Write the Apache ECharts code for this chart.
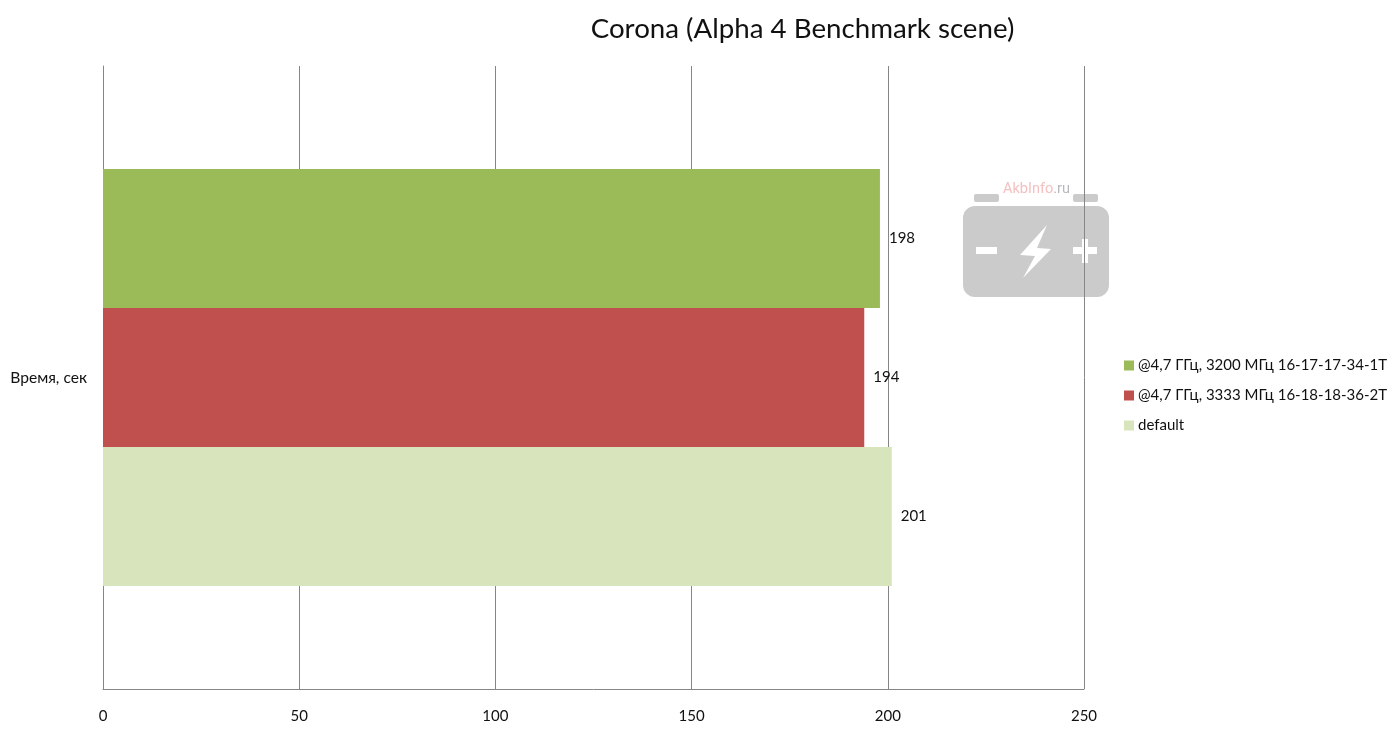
<!DOCTYPE html>
<html style="height: 100%">
<head>
    <meta charset="utf-8">
    <title>Corona (Alpha 4 Benchmark scene)</title>
    <script src="https://cdn.jsdelivr.net/npm/echarts@6/dist/echarts.min.js"></script>
</head>
<body style="height: 100%; margin: 0; background: #fff">
<div id="chart1" style="width:1392px;height:731px"></div>

<script type="text/javascript">
    var chartTitle = 'Corona (Alpha 4 Benchmark scene)';
    var categories = ['Время, сек'];
    var seriesNames = ['@4,7 ГГц, 3200 МГц 16-17-17-34-1T', '@4,7 ГГц, 3333 МГц 16-18-18-36-2T', 'default'];
    var seriesColors = ['#9BBB59', '#C0504D', '#D8E4BC'];
    var mem3200Values = [198];
    var mem3333Values = [194];
    var defaultValues = [201];
    var seriesValues = [mem3200Values, mem3333Values, defaultValues];

    var fontName = 'Lato, "Open Sans", sans-serif';
    var textColor = '#111';
    var lineColor = '#868686';
    var batteryColor = '#cbcbcb';

    var myChart1 = echarts.init(document.getElementById('chart1'));

    myChart1.setOption({
        animation: false,
        textStyle: {fontFamily: fontName},
        title: {
            text: chartTitle,
            left: 797.5,
            top: 10,
            textAlign: 'center',
            textStyle: {fontFamily: fontName, fontSize: 27.7, fontWeight: 'normal', color: '#111'}
        },
        legend: {
            orient: 'vertical',
            left: 1124,
            top: 358,
            icon: 'rect',
            itemWidth: 10,
            itemHeight: 10,
            itemGap: 15,
            padding: 0,
            data: seriesNames,
            textStyle: {fontFamily: fontName, fontSize: 15, color: textColor, padding: [0, 0, 0, -1]}
        },
        grid: {left: 103, top: 66, width: 981, height: 623},
        xAxis: {
            type: 'value',
            min: 0,
            max: 250,
            interval: 50,
            axisLine: {show: true, lineStyle: {color: lineColor}},
            axisTick: {show: false},
            axisLabel: {margin: 20, fontSize: 15, color: textColor, fontFamily: fontName},
            splitLine: {show: true, lineStyle: {color: lineColor, width: 1}}
        },
        yAxis: {
            type: 'category',
            data: categories,
            axisLine: {show: true, lineStyle: {color: lineColor}},
            axisTick: {show: false},
            axisLabel: {margin: 16, fontSize: 15.6, color: textColor, fontFamily: fontName}
        },
        series: seriesNames.map(function (name, i) {
            return {
                name: name,
                type: 'bar',
                barWidth: 139,
                barGap: 0,
                data: seriesValues[i],
                itemStyle: {color: seriesColors[i]},
                label: {show: true, position: 'right', distance: 9, fontSize: 15, color: textColor, fontFamily: fontName}
            };
        }),
        // site watermark, sits under the grid lines
        graphic: [
            {type: 'rect', z: -1, shape: {x: 963, y: 206, width: 146, height: 91, r: 12}, style: {fill: batteryColor}},
            {type: 'rect', z: -1, shape: {x: 974, y: 194, width: 25, height: 8, r: 2}, style: {fill: batteryColor}},
            {type: 'rect', z: -1, shape: {x: 1073, y: 194, width: 25, height: 8, r: 2}, style: {fill: batteryColor}},
            {type: 'rect', z: -1, shape: {x: 976, y: 247, width: 21, height: 7}, style: {fill: '#fff'}},
            {type: 'rect', z: -1, shape: {x: 1073, y: 247, width: 24, height: 7}, style: {fill: '#fff'}},
            {type: 'rect', z: -1, shape: {x: 1082, y: 239, width: 6, height: 24}, style: {fill: '#fff'}},
            {
                type: 'polygon',
                z: -1,
                shape: {points: [[1047, 225], [1020, 255], [1035, 256], [1023, 278], [1051, 249], [1037, 248]]},
                style: {fill: '#fff'}
            },
            {
                type: 'text',
                z: -1,
                x: 1003,
                y: 182,
                style: {
                    text: '{a|AkbInfo}{b|.ru}',
                    rich: {
                        a: {fill: '#f5c0c0', fontSize: 14.5, fontFamily: 'Roboto'},
                        b: {fill: '#b8b8bc', fontSize: 14.5, fontFamily: 'Roboto'}
                    }
                }
            }
        ]
    });
</script>
</body>
</html>
